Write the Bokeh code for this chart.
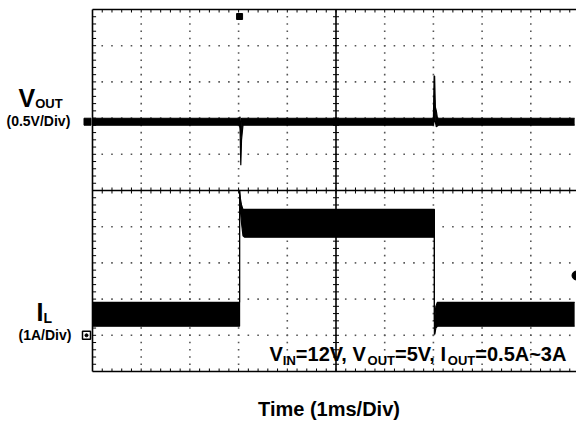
import numpy as np
from bokeh.plotting import figure
from bokeh.models import Range1d
from bokeh.core.properties import value
from bokeh.embed import file_html
from bokeh.resources import INLINE

# ---------------- data (read from the scope shot) ----------------
# time in ms from left edge of the screen (1 ms/div)
vout_t  = [0.0, 3.02, 3.03, 3.045, 3.06, 3.09, 7.00, 7.015, 7.025, 7.04, 7.06, 7.08, 7.10, 9.9]
# V_OUT deviation envelope (V), 0.5 V/div
vout_lo = [-0.048, -0.048, -0.10, -0.60, -0.25, -0.048, -0.048, 0.0, 0.30, 0.0, -0.07, -0.06, -0.048, -0.048]
vout_hi = [0.048, 0.048, 0.07, -0.20, 0.048, 0.048, 0.048, 0.63, 0.63, 0.20, 0.15, 0.06, 0.048, 0.048]

il_t  = [0.0, 3.02, 3.02, 3.04, 3.06, 3.09, 3.12, 7.02, 7.02, 7.03, 7.05, 7.08, 9.9]
# inductor current envelope (A), 1 A/div
il_lo = [0.25, 0.25, 4.00, 3.45, 3.10, 2.75, 2.71, 2.71, 0.03, 0.03, 0.20, 0.25, 0.25]
il_hi = [0.91, 0.91, 4.00, 3.75, 3.60, 3.48, 3.48, 3.48, 0.40, 0.50, 0.80, 0.91, 0.91]

VOUT_VDIV = 0.5     # V per division
IL_ADIV = 1.0       # A per division
VOUT_REF = 6.9      # ch1 reference position (div from bottom)
IL_REF = 1.0        # ch4 zero position (div from bottom)

N_XDIV = 10
N_YDIV = 10
TRIG_T = 3.02

# ---------------- layout mapping ----------------
X0, PXX = 92.0, 48.7     # page px of t=0, px per ms
Y0, PXY = 371.0, 36.2    # page px of div=0, px per div


def dx(px):
    return (px - X0) / PXX


def dy(py):
    return (Y0 - py) / PXY


W, H = 576, 424
p = figure(width=W, height=H, output_backend="svg", toolbar_location=None,
           x_axis_type=None, y_axis_type=None,
           x_range=Range1d(dx(0), dx(W)), y_range=Range1d(dy(H), dy(0)),
           min_border=0, outline_line_color=None,
           background_fill_color="white", border_fill_color="white")

# ---------------- graticule ----------------
minor = np.arange(1, 5 * N_XDIV) * 0.2
majors = [1, 2, 3, 4, 6, 7, 8, 9]
gx, gy = [], []
for yv in majors:
    gx += list(minor); gy += [yv] * len(minor)
for xv in majors:
    gx += [xv] * len(minor); gy += list(minor)
p.scatter(gx, gy, marker="square", size=1.6, color="#555555", line_width=0)

# frame (left, top, bottom) and centre cross
p.segment(x0=[0, 0, 0, 5, 0], y0=[0, 10, 0, 0, 5], x1=[0, N_XDIV, N_XDIV, 5, N_XDIV], y1=[10, 10, 0, 10, 5],
          line_color="black", line_width=1.6)

tx, ty = 3 / PXX, 3 / PXY
seg_x0, seg_y0, seg_x1, seg_y1 = [], [], [], []
for m in minor:
    # centre vertical
    seg_x0.append(5 - tx); seg_x1.append(5 + tx); seg_y0.append(m); seg_y1.append(m)
    # centre horizontal
    seg_x0.append(m); seg_x1.append(m); seg_y0.append(5 - ty); seg_y1.append(5 + ty)
    # left border
    seg_x0.append(0); seg_x1.append(tx * 1.2); seg_y0.append(m); seg_y1.append(m)
    # top border
    seg_x0.append(m); seg_x1.append(m); seg_y0.append(10); seg_y1.append(10 - ty)
    # bottom border
    seg_x0.append(m); seg_x1.append(m); seg_y0.append(0); seg_y1.append(ty)
p.segment(x0=seg_x0, y0=seg_y0, x1=seg_x1, y1=seg_y1, line_color="black", line_width=1)

# ---------------- traces ----------------
v_lo = VOUT_REF + np.array(vout_lo) / VOUT_VDIV
v_hi = VOUT_REF + np.array(vout_hi) / VOUT_VDIV
p.varea(x=vout_t, y1=v_lo, y2=v_hi, fill_color="black")
p.line(vout_t, v_lo, line_color="black", line_width=1.2)
p.line(vout_t, v_hi, line_color="black", line_width=1.2)

i_lo = IL_REF + np.array(il_lo) / IL_ADIV
i_hi = IL_REF + np.array(il_hi) / IL_ADIV
p.varea(x=il_t, y1=i_lo, y2=i_hi, fill_color="black")
p.line(il_t, i_lo, line_color="black", line_width=1.2)
p.line(il_t, i_hi, line_color="black", line_width=1.2)

# ---------------- markers ----------------
p.scatter([dx(87)], [VOUT_REF], marker="square", size=7, color="black")
p.scatter([dx(86)], [IL_REF], marker="square", size=8, fill_color="white", line_color="black", line_width=1.5)
p.scatter([dx(86)], [IL_REF], marker="circle", size=3, color="black")
p.scatter([TRIG_T], [dy(16)], marker="square", size=6, color="black")
p.scatter([dx(576)], [dy(275)], marker="circle", size=9, color="black")

# ---------------- texts ----------------
WID = {' ': 278, '(': 333, ')': 333, ',': 278, '.': 278, '/': 278, '=': 584, '~': 584,
       'A': 722, 'D': 722, 'I': 278, 'L': 611, 'N': 722, 'O': 778, 'T': 611, 'U': 722,
       'V': 667, 'i': 278, 'v': 556, 'm': 889, 'e': 556, 's': 556}


def tw(s, size):
    return sum(WID.get(c, 556) for c in s) * size / 1000.0


def put(txt, px, py, size, align="left"):
    p.text(x=[dx(px)], y=[dy(py)], text=[txt], text_font=value("Liberation Sans"),
           text_font_style="bold", text_font_size=f"{size}px", text_align=align,
           text_baseline="middle", text_color="black")


def put_seq(parts, px, mid, sub_mid):
    x = px
    for txt, size, is_sub in parts:
        put(txt, x, sub_mid if is_sub else mid, size)
        x += tw(txt, size)


put_seq([("V", 25, False), ("OUT", 13, True)], 18, 97.5, 102.5)
put("(0.5V/Div)", 6, 120, 14)
put_seq([("I", 25, False), ("L", 14, True)], 36, 311.5, 317.5)
put("(1A/Div)", 18, 334, 14)

put_seq([("V", 20, False), ("IN", 13, True), ("=12V, V", 20, False), ("OUT", 13, True),
         ("=5V, I", 20, False), ("OUT", 13, True), ("=0.5A~3A", 20, False)], 269, 353.5, 359.5)

put("Time (1ms/Div)", 328.5, 408, 20, align="center")

open("out.html", "w").write(file_html(p, INLINE))
